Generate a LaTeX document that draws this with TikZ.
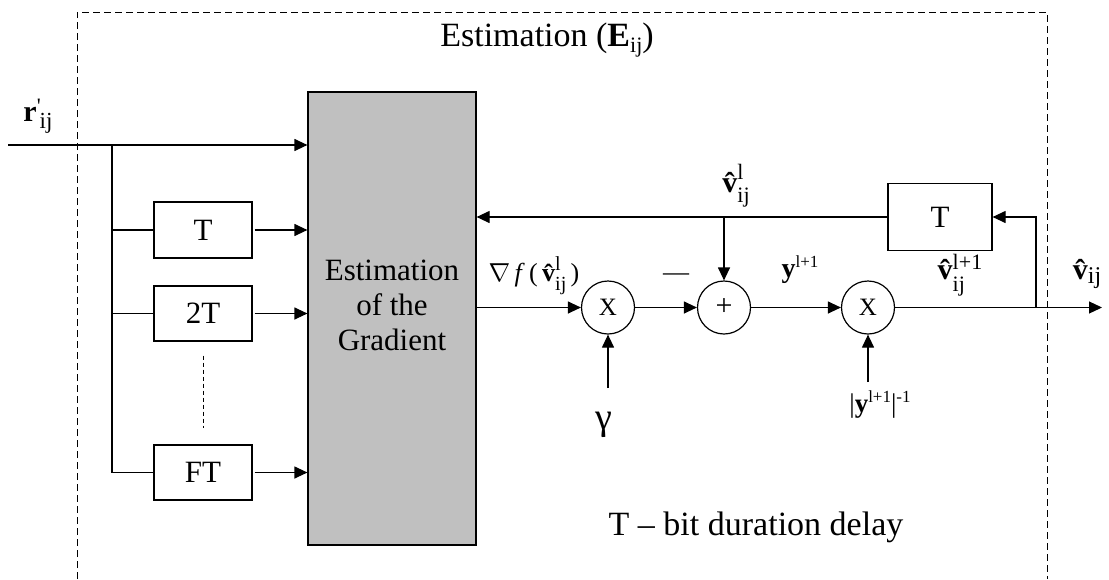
\documentclass[tikz,border=0pt]{standalone}
\usepackage{fix-cm}
\usepackage{fontspec}
\setmainfont{Liberation Serif}
\usetikzlibrary{arrows.meta}
\definecolor{boxgray}{HTML}{C0C0C0}
\newcommand{\vh}{\mbox{\bfseries\^{v}}}
\newcommand{\rs}[3]{\raisebox{#1}{\fontsize{#2}{#2}\selectfont #3}}
\begin{document}
\begin{tikzpicture}[x=1pt,y=-1pt, line width=1.2pt,
  >={Triangle[length=13pt,width=12pt]},
  blk/.style={draw, rectangle, inner sep=0pt, font=\fontsize{31}{36}\selectfont},
  mul/.style={draw, circle, minimum size=53pt, inner sep=0pt, font=\fontsize{25}{28}\selectfont},
  lbl/.style={inner sep=0pt, font=\fontsize{30}{34}\selectfont},
  frame/.style={line width=1pt, dash pattern=on 7pt off 4pt},
]
\useasboundingbox (0,0) rectangle (1109,579);
% frame
\draw[frame] (77,579) -- (77,12) -- (1047,12) -- (1047,579);
% blocks
\node[draw, fill=boxgray, minimum width=168, minimum height=453, inner sep=0pt] (grad) at (392,318.5) {};
\node[lbl, align=center, font=\fontsize{31}{35}\selectfont] (gradtxt) at (392,305) {Estimation\\of the\\Gradient};
\node[blk, minimum width=98, minimum height=56] (t1) at (203,230) {T};
\node[blk, minimum width=98, minimum height=55] (t2) at (203,313.5) {2T};
\node[blk, minimum width=98, minimum height=55] (tf) at (203,472.5) {FT};
\node[blk, minimum width=104, minimum height=67] (tfb) at (940,217) {T};
\node[mul] (m1) at (608,307.5) {X};
\node[mul, font=\fontsize{30}{32}\selectfont] (add) at (724,307.5) {\raisebox{-5pt}{+}};
\node[mul] (m2) at (868,307.5) {X};
% coordinates
\coordinate (in) at (8,145);
\coordinate (br) at (112,145);
\coordinate (brf) at (112,472.5);
\coordinate (fb) at (724,217);
\coordinate (outj) at (1036,307.5);
\coordinate (outend) at (1102,307.5);
\coordinate (gam) at (608,388);
\coordinate (nrm) at (868,382);
% connectors
\draw[->] (in) -- (in -| grad.west);
\draw (br) -- (brf) -- (tf.west);
\draw (br |- t1.west) -- (t1.west);
\draw (br |- t2.west) -- (t2.west);
\draw[->] ([xshift=2pt]t1.east) -- (t1.east -| grad.west);
\draw[->] ([xshift=2pt]t2.east) -- (t2.east -| grad.west);
\draw[->] ([xshift=2pt]tf.east) -- (tf.east -| grad.west);
\draw[line width=0.9pt, dash pattern=on 4pt off 3pt] ([yshift=-14pt]t2.south) -- ([yshift=16pt]tf.north);
\draw[->] (grad.east |- m1) -- (m1);
\draw[->] (m1) -- (add);
\draw[->] (add) -- (m2);
\draw[->] (m2) -- (outend);
\draw[->] (outj) |- (tfb.east);
\draw[->] (tfb.west) -- (tfb.west -| grad.east);
\draw[->] (fb) -- (add);
\draw[->] (gam) -- (m1);
\draw[->] (nrm) -- (m2);
% labels
\node[lbl] (rlab) at (38,116) {\textbf{r}\rs{8pt}{22}{\textquotesingle}\kern-1pt\rs{-7pt}{23}{ij}};
\node[lbl, font=\fontsize{34}{40}\selectfont] (title) at (547,40) {Estimation (\textbf{E}\rs{-6pt}{22}{ij})};
\node[lbl] (vl) at (736,186) {\vh\rlap{\rs{13pt}{22}{l}}\rs{-10pt}{22}{ij}};
\node[lbl, font=\fontsize{26}{30}\selectfont] (grl) at (534,276) {$\nabla$\,\textit{f}\,(\,\vh\rlap{\rs{11pt}{20}{l}}\rs{-9pt}{20}{ij}\,)};
\node[lbl, font=\fontsize{26}{30}\selectfont] (minus) at (676,277) {—};
\node[lbl, font=\fontsize{28}{32}\selectfont] (ylab) at (800,270) {\textbf{y}\rs{10pt}{17}{l+1}};
\node[lbl] (vl1) at (960,275) {\vh\rlap{\rs{-12pt}{22}{ij}}\rs{10pt}{22}{l+1}};
\node[lbl] (vout) at (1087,274) {\vh\rs{-4pt}{24}{ij}};
\node[lbl, font=\fontsize{27}{30}\selectfont] (nlab) at (880,405) {|\textbf{y}\rs{10pt}{17}{l+1}|\rs{10pt}{17}{-1}};
\node[lbl, font=\fontsize{38}{40}\selectfont] (gl) at (604,425) {γ};
\node[lbl, font=\fontsize{34}{40}\selectfont] (note) at (756,527) {T – bit duration delay};
\end{tikzpicture}
\end{document}
